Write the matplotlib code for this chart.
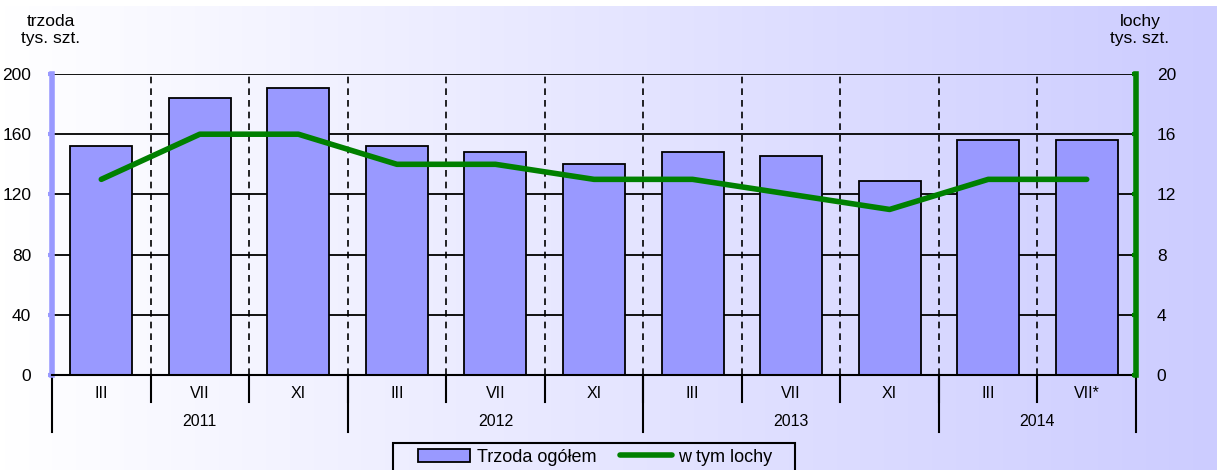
import matplotlib
matplotlib.use('Agg')
import matplotlib.pyplot as plt
import numpy as np
from matplotlib.patches import Patch, Rectangle
from matplotlib.lines import Line2D
from matplotlib.transforms import blended_transform_factory

plt.rcParams['font.family'] = ['Liberation Sans', 'DejaVu Sans']

# dane
months = ['III', 'VII', 'XI', 'III', 'VII', 'XI', 'III', 'VII', 'XI', 'III', 'VII*']
years = ['2011', '2012', '2013', '2014']
year_spans = [(0, 3), (3, 6), (6, 9), (9, 11)]
trzoda = [152, 184, 190.5, 152, 148, 140, 148, 145.5, 129, 156, 156]
lochy = [13, 16, 16, 14, 14, 13, 13, 12, 11, 13, 13]

fig = plt.figure(figsize=(12.17, 4.70), dpi=100)

# tlo z gradientem
bg = fig.add_axes([0, 0, 1, 1], zorder=-10)
grad = np.linspace(0, 1, 256)
c0 = np.array([1.0, 1.0, 1.0])
c1 = np.array([0.80, 0.80, 1.0])
img = c0[None, None, :] + (c1 - c0)[None, None, :] * grad[None, :, None]
bg.imshow(img, aspect='auto', extent=[0, 1, 0, 464 / 470])
bg.set_xlim(0, 1)
bg.set_ylim(0, 1)
bg.axis('off')

ax = fig.add_axes([52 / 1217, 95 / 470, (1136 - 52) / 1217, 301 / 470])
ax.set_facecolor('none')
x = np.arange(len(months))

ax.set_axisbelow(True)
ax.yaxis.grid(True, color='black', linewidth=1.3)
ax.bar(x, trzoda, width=0.63, color='#9999ff', edgecolor='black', linewidth=1.3, zorder=2)
for b in np.arange(0.5, len(months) - 0.5, 1):
    ax.axvline(b, color='black', linestyle=(0, (4, 3)), linewidth=1.2, zorder=1)

ax.set_xlim(-0.5, len(months) - 0.5)
ax.set_ylim(0, 200)
ax.set_yticks(np.arange(0, 201, 40))
ax.set_xticks([])
ax.tick_params(axis='y', labelsize=12.5, length=3, width=3, color='#9999ff', pad=12)
ax.spines['left'].set_color('#9999ff')
ax.spines['left'].set_linewidth(4)
ax.spines['bottom'].set_linewidth(1.5)
ax.spines['top'].set_visible(False)
ax.spines['right'].set_visible(False)

# etykiety osi X (miesiace i lata)
tr = blended_transform_factory(ax.transData, ax.transAxes)
for i, m in enumerate(months):
    ax.text(i, -0.06, m, transform=tr, ha='center', va='center', fontsize=11.5)
for b in np.arange(0.5, len(months) - 0.5, 1):
    ax.plot([b, b], [0, -0.09], transform=tr, color='black', lw=1.5, clip_on=False)
for (s, e), y in zip(year_spans, years):
    ax.text((s + e - 1) / 2, -0.155, y, transform=tr, ha='center', va='center', fontsize=11.5)
    ax.plot([s - 0.5, s - 0.5], [0, -0.19], transform=tr, color='black', lw=1.5, clip_on=False)
ax.plot([len(months) - 0.5] * 2, [0, -0.19], transform=tr, color='black', lw=1.5, clip_on=False)

# druga os - lochy
ax2 = ax.twinx()
ax2.set_facecolor('none')
ax2.plot(x, lochy, color='#008000', linewidth=4, solid_capstyle='round', solid_joinstyle='round', zorder=5)
ax2.set_ylim(0, 20)
ax2.set_yticks(np.arange(0, 21, 4))
ax2.tick_params(axis='y', labelsize=12.5, length=3, width=3, color='#008000', direction='in', pad=15)
ax2.spines['right'].set_color('#008000')
ax2.spines['right'].set_linewidth(4)
for s in ['left', 'top', 'bottom']:
    ax2.spines[s].set_visible(False)

fig.text(51 / 1217, 1 - 30 / 470, 'trzoda\ntys. szt.', ha='center', va='center', fontsize=12.5, linespacing=1.1)
fig.text(1140 / 1217, 1 - 30 / 470, 'lochy\ntys. szt.', ha='center', va='center', fontsize=12.5, linespacing=1.1)

# legenda (ramka rysowana osobno, przycieta dolem)
fig.patches.append(Rectangle((393 / 1217, -0.05), (795 - 393) / 1217, 0.05 + 1 - 443 / 470,
                             transform=fig.transFigure, fill=False, edgecolor='black', linewidth=1.5))
handles = [Patch(facecolor='#9999ff', edgecolor='black', linewidth=1.3),
           Line2D([0], [0], color='#008000', linewidth=4, solid_capstyle='round')]
fig.legend(handles, ['Trzoda ogółem', 'w tym lochy'], loc='center left',
           bbox_to_anchor=(418 / 1217, 1 - 457 / 470), ncol=2, fontsize=13,
           frameon=False, handlelength=2.9, handleheight=0.7,
           handletextpad=0.35, columnspacing=1.3, borderpad=0, borderaxespad=0)

fig.savefig('out.png', dpi=100)
